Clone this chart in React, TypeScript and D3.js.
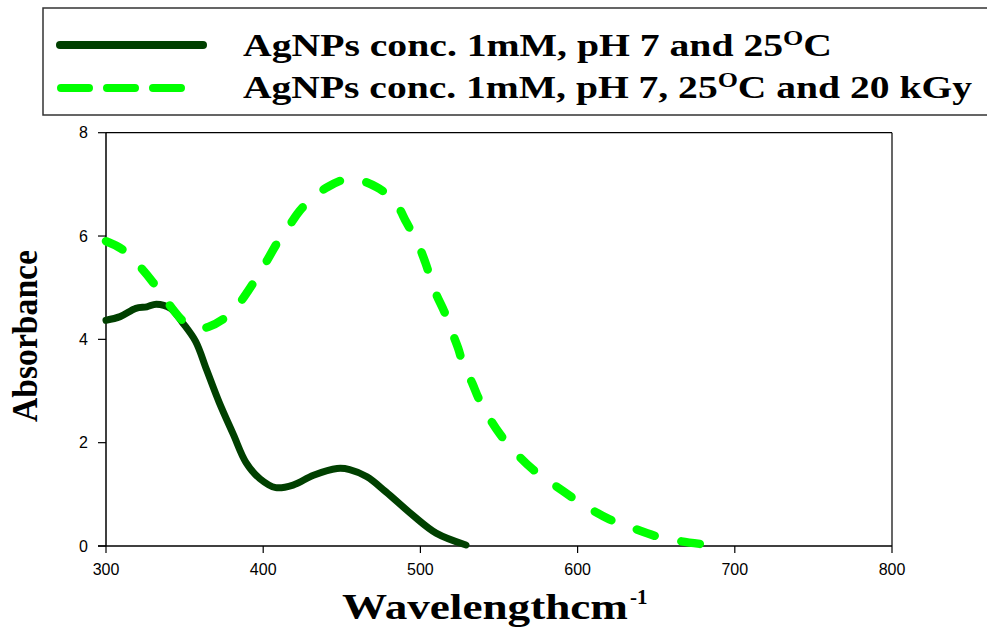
import React from "react";
import * as d3 from "d3";

const darkW = [300, 309, 319, 326, 332, 341, 349, 357, 364, 372, 381, 389, 398, 408, 419, 432, 447, 455, 466, 478, 495, 510, 529];
const darkA = [4.37, 4.44, 4.6, 4.63, 4.68, 4.6, 4.31, 3.96, 3.41, 2.78, 2.16, 1.62, 1.3, 1.13, 1.18, 1.37, 1.5, 1.48, 1.34, 1.05, 0.6, 0.25, 0.02];

const greenW = [300, 310, 320, 330, 340, 350, 358, 365, 375, 383, 390, 400, 410, 417, 423, 430, 441, 455, 462, 472, 480, 486, 491, 498, 503, 509, 516, 520, 524, 527, 533, 537, 544, 551, 562, 572, 590, 602, 620, 633, 651, 664, 683];
const greenA = [5.9, 5.75, 5.46, 5.1, 4.68, 4.33, 4.21, 4.24, 4.4, 4.63, 4.92, 5.4, 5.92, 6.22, 6.48, 6.7, 6.95, 7.12, 7.08, 6.95, 6.78, 6.56, 6.27, 5.88, 5.5, 4.95, 4.48, 4.15, 3.83, 3.54, 3.15, 2.86, 2.47, 2.15, 1.76, 1.47, 1.08, 0.83, 0.52, 0.37, 0.18, 0.1, 0.02];

const xTicks = [300, 400, 500, 600, 700, 800];
const yTicks = [0, 2, 4, 6, 8];

const DARK = "#004000";
const BRIGHT = "#00ff00";

export default function App() {
  const x = d3.scaleLinear().domain([300, 800]).range([106, 892]);
  const y = d3.scaleLinear().domain([0, 8]).range([546, 132.7]);
  const line = d3
    .line<[number, number]>()
    .x((d) => x(d[0]))
    .y((d) => y(d[1]))
    .curve(d3.curveCatmullRom.alpha(0.5));
  const darkPts = darkW.map((w, i) => [w, darkA[i]] as [number, number]);
  const greenPts = greenW.map((w, i) => [w, greenA[i]] as [number, number]);
  const serif = "'Liberation Serif', 'Times New Roman', serif";
  const sans = "'Liberation Sans', Arial, sans-serif";

  return (
    <svg width={987} height={634} style={{ position: "absolute", left: 0, top: 0, background: "#fff" }}>
      {/* legend */}
      <rect x={43} y={8} width={960} height={107} fill="none" stroke="#333" strokeWidth={1.5} />
      <line x1={60} x2={203} y1={45} y2={45} stroke={DARK} strokeWidth={8} strokeLinecap="round" />
      <line x1={61} x2={185} y1={88} y2={88} stroke={BRIGHT} strokeWidth={8} strokeLinecap="round" strokeDasharray="28 18" />
      <text x={243} y={56} fontFamily={serif} fontWeight="bold" fontSize={32} fill="#000" textLength={589} lengthAdjust="spacingAndGlyphs">
        AgNPs conc. 1mM, pH 7 and 25<tspan fontSize={21} dy={-11}>O</tspan><tspan dy={11}>C</tspan>
      </text>
      <text x={243} y={98} fontFamily={serif} fontWeight="bold" fontSize={32} fill="#000" textLength={729} lengthAdjust="spacingAndGlyphs">
        AgNPs conc. 1mM, pH 7, 25<tspan fontSize={21} dy={-11}>O</tspan><tspan dy={11}>C and 20 kGy</tspan>
      </text>

      {/* frame */}
      <line x1={106} x2={892} y1={132.7} y2={132.7} stroke="#000" strokeWidth={1.2} />
      <line x1={892} x2={892} y1={132.7} y2={546} stroke="#000" strokeWidth={1.2} />
      <line x1={106} x2={106} y1={132.7} y2={546} stroke="#000" strokeWidth={1.5} />
      <line x1={98} x2={892} y1={546} y2={546} stroke="#000" strokeWidth={1.5} />

      {yTicks.map((t) => (
        <g key={"y" + t}>
          <line x1={98} x2={106} y1={y(t)} y2={y(t)} stroke="#000" strokeWidth={1.2} />
          <text x={88} y={y(t) + 5.5} textAnchor="end" fontFamily={sans} fontSize={16} fill="#000">
            {t}
          </text>
        </g>
      ))}
      {xTicks.map((t) => (
        <g key={"x" + t}>
          <line x1={x(t)} x2={x(t)} y1={546} y2={553} stroke="#000" strokeWidth={1.2} />
          <text x={x(t)} y={575} textAnchor="middle" fontFamily={sans} fontSize={16} fill="#000">
            {t}
          </text>
        </g>
      ))}

      {/* curves */}
      <path d={line(darkPts) || ""} fill="none" stroke={DARK} strokeWidth={7} strokeLinecap="round" strokeLinejoin="round" />
      <path d={line(greenPts) || ""} fill="none" stroke={BRIGHT} strokeWidth={8.5} strokeLinecap="round" strokeDasharray="18.5 27.5" />

      {/* axis titles */}
      <text
        transform="translate(37,336) rotate(-90)"
        textAnchor="middle"
        fontFamily={serif}
        fontWeight="bold"
        fontSize={36}
        fill="#000"
        textLength={172}
        lengthAdjust="spacingAndGlyphs"
      >
        Absorbance
      </text>
      <text x={342} y={619} fontFamily={serif} fontWeight="bold" fontSize={36} fill="#000" textLength={286} lengthAdjust="spacingAndGlyphs">
        Wavelengthcm
      </text>
      <text x={630} y={604} fontFamily={serif} fontWeight="bold" fontSize={21} fill="#000">
        -1
      </text>
    </svg>
  );
}
